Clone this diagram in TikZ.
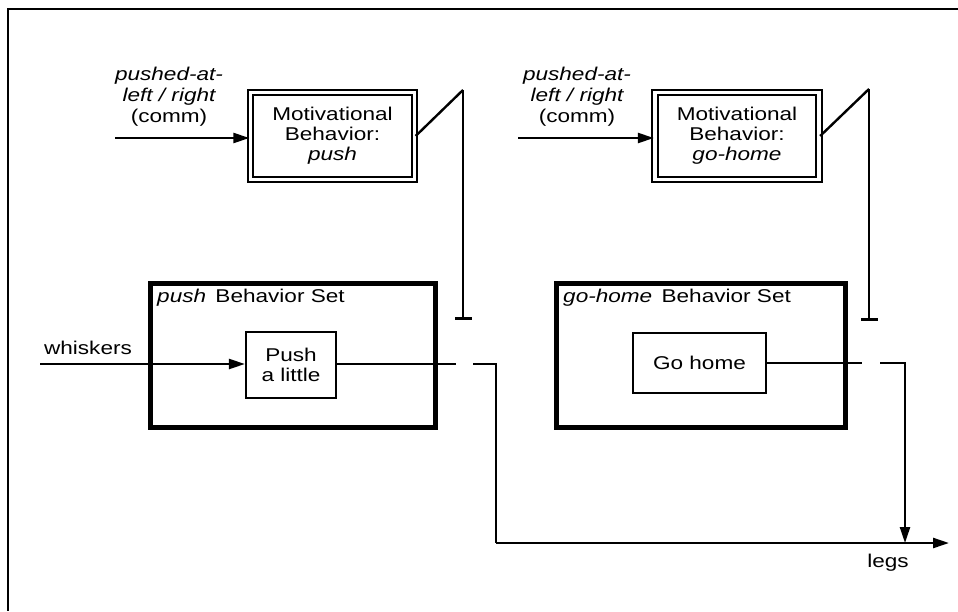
\documentclass[tikz,border=0pt]{standalone}
\usepackage{fontspec}
\setmainfont[FakeStretch=1.22]{Liberation Sans}
\usetikzlibrary{arrows.meta}

\tikzset{
  wire/.style={line width=2.4pt},
  arr/.style={wire, -{Triangle[length=16pt,width=10pt]}},
  stopbar/.style={wire, -{Bar[width=17pt,line width=2.8pt]}},
  motbox/.style={draw, double, double distance=3.2pt, line width=2.3pt,
    inner sep=0pt, align=center, minimum width=164pt, minimum height=87pt},
  setbox/.style={draw, line width=5pt, inner sep=0pt},
  actbox/.style={draw, line width=2.2pt, inner sep=0pt, align=center},
  txt/.style={inner sep=0pt, align=center}
}

\begin{document}
\begin{tikzpicture}[x=1pt, y=-1pt, font=\fontsize{18.5}{20}\selectfont]
\useasboundingbox (0,0) rectangle (958,611);

% outer frame (cut off at right and bottom)
\draw[line width=2.6pt] (958,9) -- (8,9) -- (8,611);

%--- LEFT: push ---
\node[motbox] (motPush) at (332.5,136) {Motivational\\Behavior:\\\textit{push}};
\node[txt, font=\fontsize{18.5}{21}\selectfont\itshape] (lblPush) at (169,97)
  {pushed-at-\\left / right\\\textup{(comm)}};
\coordinate (inPush) at (115,138);
\draw[arr] (inPush) -- (inPush -| motPush.west);

\node[setbox, minimum width=285pt, minimum height=144pt] (setPush) at (292.5,355) {};
\node[txt, anchor=west] (titlePush) at (157,298) {\textit{push}\, Behavior Set};
\node[actbox, minimum width=90pt, minimum height=66pt] (pushLittle) at (291,365) {Push\\a little};

\node[txt] (lblWhisk) at (88,348) {whiskers};
\coordinate (inWhisk) at (40,364);
\draw[arr] (inWhisk) -- (inWhisk -| pushLittle.west);

% switch
\coordinate (swPushTop) at (463,90);
\coordinate (swPushBot) at (463,320);
\draw[wire] (motPush.east) -- (swPushTop);
\draw[stopbar] (swPushTop) -- (swPushBot);
\coordinate (outPushA) at (456,364);
\coordinate (outPushB) at (473,364);
\coordinate (outPushC) at (496,364);
\draw[wire] (pushLittle.east |- outPushA) -- (outPushA);

%--- RIGHT: go-home ---
\node[motbox] (motHome) at (737,136) {Motivational\\Behavior:\\\textit{go-home}};
\node[txt, font=\fontsize{18.5}{21}\selectfont\itshape] (lblHome) at (577,97)
  {pushed-at-\\left / right\\\textup{(comm)}};
\coordinate (inHome) at (518,138);
\draw[arr] (inHome) -- (inHome -| motHome.west);

\node[setbox, minimum width=289pt, minimum height=144pt] (setHome) at (700.5,355) {};
\node[txt, anchor=west] (titleHome) at (563,298) {\textit{go-home}\, Behavior Set};
\node[actbox, minimum width=133pt, minimum height=60pt] (goHome) at (699.5,363) {Go home};

% switch
\coordinate (swHomeTop) at (869,89);
\coordinate (swHomeBot) at (869,321);
\draw[wire] (motHome.east) -- (swHomeTop);
\draw[stopbar] (swHomeTop) -- (swHomeBot);
\coordinate (outHomeA) at (862,363);
\coordinate (outHomeB) at (880,363);
\coordinate (outHomeC) at (905,363);
\draw[wire] (goHome.east) -- (outHomeA);

%--- legs ---
\coordinate (legsStart) at (496,543);
\coordinate (legsEnd) at (949,543);
\coordinate (legsJoin) at (905,543);
\draw[wire] (outPushB) -- (outPushC) -- (legsStart);
\draw[arr] (legsStart) -- (legsEnd);
\draw[arr] (outHomeB) -- (outHomeC) -- (legsJoin);
\node[txt] (lblLegs) at (888,563) {legs};

\end{tikzpicture}
\end{document}
